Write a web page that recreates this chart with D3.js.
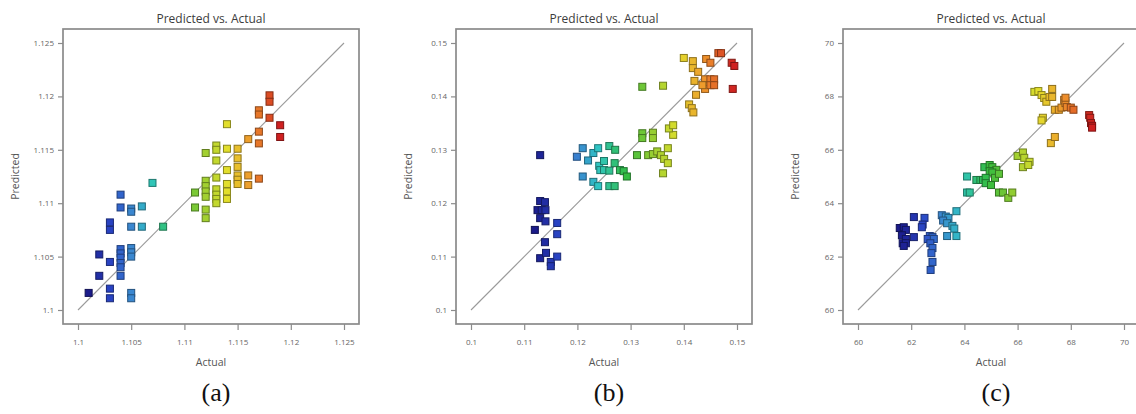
<!DOCTYPE html>
<html>
<head>
<meta charset="utf-8">
<script src="https://cdnjs.cloudflare.com/ajax/libs/d3/7.8.5/d3.min.js"></script>
<style>
    body { margin: 0; background: #fff; }
    svg text { font-family: "Open Sans", sans-serif; }
</style>
</head>
<body>
<div id="chart"></div>
<script>

/* Predicted vs. Actual parity plots, three responses side by side */

const plotTitle = "Predicted vs. Actual";
const xTitle = "Actual";
const yTitle = "Predicted";
const panelLabels = ["(a)", "(b)", "(c)"];

//panel (a)
const ticksA = [1.1, 1.105, 1.11, 1.115, 1.12, 1.125];
const actualA = [1.101, 1.102, 1.102, 1.103, 1.103, 1.103, 1.103, 1.103,
    1.104, 1.104, 1.104, 1.104, 1.104, 1.104, 1.104, 1.104,
    1.105, 1.105, 1.105, 1.105, 1.105, 1.105, 1.105, 1.105,
    1.106, 1.106, 1.107, 1.108, 1.111, 1.111,
    1.112, 1.112, 1.112, 1.112, 1.112, 1.112, 1.112,
    1.113, 1.113, 1.113, 1.113, 1.113, 1.113, 1.113, 1.113,
    1.114, 1.114, 1.114, 1.114, 1.114, 1.114,
    1.115, 1.115, 1.115, 1.115, 1.115, 1.115,
    1.116, 1.116, 1.116, 1.117, 1.117, 1.117, 1.117, 1.117,
    1.118, 1.118, 1.118, 1.119, 1.119];
const predictedA = [1.1016, 1.1052, 1.1032, 1.1082, 1.1075, 1.1045, 1.1020, 1.1011,
    1.1108, 1.1096, 1.1057, 1.1053, 1.1049, 1.1044, 1.1040, 1.1032,
    1.1095, 1.1092, 1.1078, 1.1058, 1.1054, 1.1050, 1.1016, 1.1011,
    1.1097, 1.1078, 1.1119, 1.1078, 1.1110, 1.1096,
    1.1147, 1.1121, 1.1116, 1.1111, 1.1106, 1.1094, 1.1086,
    1.1154, 1.1150, 1.1140, 1.1124, 1.1113, 1.1108, 1.1104, 1.1100,
    1.1174, 1.1151, 1.1131, 1.1118, 1.1111, 1.1104,
    1.1151, 1.1142, 1.1134, 1.1126, 1.1122, 1.1118,
    1.1160, 1.1126, 1.1117, 1.1187, 1.1183, 1.1167, 1.1156, 1.1123,
    1.1201, 1.1195, 1.1180, 1.1173, 1.1162];

//panel (b)
const ticksB = [0.1, 0.11, 0.12, 0.13, 0.14, 0.15];
const actualB = [0.1130, 0.1130, 0.1139, 0.1125, 0.1133, 0.1140, 0.1130, 0.1140, 0.1120,
    0.1162, 0.1162, 0.1139, 0.1130, 0.1141, 0.1150, 0.1150, 0.1162,
    0.1199, 0.1210, 0.1210, 0.1220, 0.1230, 0.1239, 0.1230, 0.1239, 0.1241, 0.1250,
    0.1243, 0.1250, 0.1260, 0.1271, 0.1270, 0.1260, 0.1280, 0.1287, 0.1293, 0.1260, 0.1270,
    0.1312, 0.1322, 0.1322, 0.1333, 0.1342, 0.1342, 0.1342, 0.1350, 0.1357, 0.1363,
    0.1370, 0.1361, 0.1370, 0.1380, 0.1322, 0.1361, 0.1372, 0.1380,
    0.1400, 0.1417, 0.1417, 0.1427, 0.1442, 0.1450, 0.1465, 0.1470, 0.1490, 0.1495, 0.1492,
    0.1420, 0.1440, 0.1440, 0.1440, 0.1450, 0.1457, 0.1450, 0.1457, 0.1435,
    0.1423, 0.1410, 0.1415, 0.1418];
const predictedB = [0.1290, 0.1204, 0.1202, 0.1187, 0.1187, 0.1187, 0.1172, 0.1166, 0.1150,
    0.1163, 0.1142, 0.1127, 0.1097, 0.1107, 0.1090, 0.1082, 0.1100,
    0.1287, 0.1303, 0.1250, 0.1280, 0.1294, 0.1303, 0.1240, 0.1232, 0.1270, 0.1279,
    0.1262, 0.1262, 0.1307, 0.1300, 0.1275, 0.1261, 0.1262, 0.1260, 0.1250, 0.1232, 0.1232,
    0.1290, 0.1331, 0.1322, 0.1290, 0.1332, 0.1322, 0.1292, 0.1297, 0.1290, 0.1283,
    0.1275, 0.1256, 0.1303, 0.1328, 0.1418, 0.1420, 0.1340, 0.1346,
    0.1472, 0.1466, 0.1453, 0.1446, 0.1470, 0.1463, 0.1481, 0.1481, 0.1463, 0.1457, 0.1414,
    0.1429, 0.1432, 0.1421, 0.1414, 0.1432, 0.1432, 0.1421, 0.1421, 0.1421,
    0.1403, 0.1385, 0.1378, 0.1370];

//panel (c)
const ticksC = [60, 62, 64, 66, 68, 70];
const actualC = [61.57, 61.72, 61.80, 61.65, 61.80, 61.68, 61.80, 61.72,
    62.10, 62.10, 62.50, 62.43, 62.40, 62.70, 62.80, 62.62, 62.85, 62.72,
    62.80, 62.76, 62.80, 62.73,
    63.15, 63.30, 63.40, 63.20, 63.35, 63.55, 63.62, 63.35, 63.70, 63.70,
    64.10, 64.10, 64.20, 64.45, 64.60, 64.70, 64.75, 64.95, 65.05, 65.20,
    64.95, 65.05, 64.80, 65.15, 64.80, 65.00, 65.30,
    65.30, 65.45, 65.65, 65.80,
    66.00, 66.20, 66.25, 66.45, 66.20, 66.40, 67.25, 67.40,
    66.63, 66.78, 66.90, 67.00, 67.08, 67.20, 67.30, 67.30, 66.95, 66.90,
    67.40, 67.55, 67.65, 67.75, 67.80, 67.85, 68.00, 68.10, 67.80,
    68.69, 68.73, 68.76, 68.80, 68.80];
const predictedC = [63.07, 63.10, 63.00, 62.80, 62.66, 62.50, 62.50, 62.40,
    63.48, 62.73, 63.45, 63.20, 63.10, 62.77, 62.73, 62.66, 62.66, 62.50,
    62.32, 62.13, 61.80, 61.50,
    63.55, 63.50, 63.45, 63.35, 63.25, 63.15, 63.05, 62.77, 62.77, 63.70,
    65.00, 64.40, 64.40, 64.87, 64.87, 64.87, 65.35, 65.43, 65.35, 65.25,
    65.20, 65.15, 64.95, 64.95, 64.75, 64.68, 65.10,
    64.40, 64.40, 64.20, 64.40,
    65.77, 65.90, 65.70, 65.55, 65.35, 65.43, 66.25, 66.48,
    68.17, 68.20, 68.05, 67.94, 67.80, 67.98, 68.28, 67.98, 67.20, 67.10,
    67.50, 67.50, 67.58, 67.87, 67.75, 67.60, 67.58, 67.50, 67.95,
    67.30, 67.20, 67.00, 66.90, 66.83];


class ParityPlot {

    constructor(_svg, _left, _actual, _predicted, _ticks, _label) {
        this.svg = _svg;
        this.left = _left;
        this.actual = _actual;
        this.predicted = _predicted;
        this.ticks = _ticks;
        this.label = _label;

        this.initVis();
    }

    initVis() {
        let vis = this;

        vis.top = 29;
        vis.width = 296;
        vis.height = 295;

        vis.g = vis.svg.append("g")
            .attr("transform", "translate(" + vis.left + "," + vis.top + ")");

        //same domain on both axes
        let dom = [vis.ticks[0], vis.ticks[vis.ticks.length - 1]];
        vis.x = d3.scaleLinear().domain(dom).range([15, 281]);
        vis.y = d3.scaleLinear().domain(dom).range([281, 14]);

        //jet-ish colour by actual value (normalised 0..1)
        let lo = d3.min(vis.actual), hi = d3.max(vis.actual);
        vis.color = d3.scaleLinear()
            .domain([0, 0.12, 0.22, 0.32, 0.46, 0.6, 0.72, 0.85, 1].map(t => lo + t * (hi - lo)))
            .range(["#1b1b8a", "#2a46c6", "#3a86d0", "#30c6c4", "#32bc40", "#9ccf30", "#e2df2c", "#ef962c", "#cf2020"]);

        //title
        vis.g.append("text")
            .attr("x", vis.width / 2)
            .attr("y", -6)
            .attr("text-anchor", "middle")
            .attr("font-size", 12)
            .attr("fill", "#3c3c3c")
            .text(plotTitle);

        //axes
        let xAxis = d3.axisBottom(vis.x).tickValues(vis.ticks).tickSize(6).tickPadding(9).tickFormat(d => String(d));
        let yAxis = d3.axisLeft(vis.y).tickValues(vis.ticks).tickSize(5).tickPadding(4).tickFormat(d => String(d));

        vis.g.append("g")
            .attr("class", "axis")
            .attr("transform", "translate(0," + vis.height + ")")
            .call(xAxis);
        vis.g.append("g")
            .attr("class", "axis")
            .call(yAxis);

        vis.g.selectAll(".axis .domain").remove();
        vis.g.selectAll(".axis line").attr("stroke", "#8c8c8c").attr("stroke-width", 1.2);
        vis.g.selectAll(".axis text").attr("font-size", 8).attr("fill", "#666");

        //frame
        vis.g.append("rect")
            .attr("width", vis.width)
            .attr("height", vis.height)
            .attr("fill", "none")
            .attr("stroke", "#8a8a8a")
            .attr("stroke-width", 1.7);

        //axis titles
        vis.g.append("text")
            .attr("x", vis.x((dom[0] + dom[1]) / 2))
            .attr("y", vis.height + 42)
            .attr("text-anchor", "middle")
            .attr("font-size", 10.5)
            .attr("fill", "#555")
            .text(xTitle);
        vis.g.append("text")
            .attr("transform", "translate(-44," + (vis.height / 2) + ") rotate(-90)")
            .attr("text-anchor", "middle")
            .attr("font-size", 10.5)
            .attr("fill", "#555")
            .text(yTitle);

        //y = x reference line
        vis.g.append("line")
            .attr("x1", vis.x(dom[0]))
            .attr("y1", vis.y(dom[0]))
            .attr("x2", vis.x(dom[1]))
            .attr("y2", vis.y(dom[1]))
            .attr("stroke", "#9a9a9a")
            .attr("stroke-width", 1.1);

        vis.updateVis();
    }

    updateVis() {
        let vis = this;
        let s = 7;

        vis.g.selectAll(".pt")
            .data(vis.actual.map((a, i) => ({a: a, p: vis.predicted[i]})))
            .enter()
            .append("rect")
            .attr("class", "pt")
            .attr("x", d => vis.x(d.a) - s / 2)
            .attr("y", d => vis.y(d.p) - s / 2)
            .attr("width", s)
            .attr("height", s)
            .attr("fill", d => vis.color(d.a))
            .attr("stroke", d => d3.color(vis.color(d.a)).darker(1.4))
            .attr("stroke-width", 1);

        //(a)/(b)/(c) caption under the panel
        vis.svg.append("text")
            .attr("x", vis.left + vis.width / 2 + 5)
            .attr("y", 401)
            .attr("text-anchor", "middle")
            .style("font-family", "'Liberation Serif', 'Times New Roman', serif")
            .attr("font-size", 26)
            .attr("fill", "#111")
            .text(vis.label);
    }
}

let svg = d3.select("#chart").append("svg")
    .attr("width", 1136)
    .attr("height", 414);

new ParityPlot(svg, 63, actualA, predictedA, ticksA, panelLabels[0]);
new ParityPlot(svg, 456, actualB, predictedB, ticksB, panelLabels[1]);
new ParityPlot(svg, 843, actualC, predictedC, ticksC, panelLabels[2]);

</script>
</body>
</html>
